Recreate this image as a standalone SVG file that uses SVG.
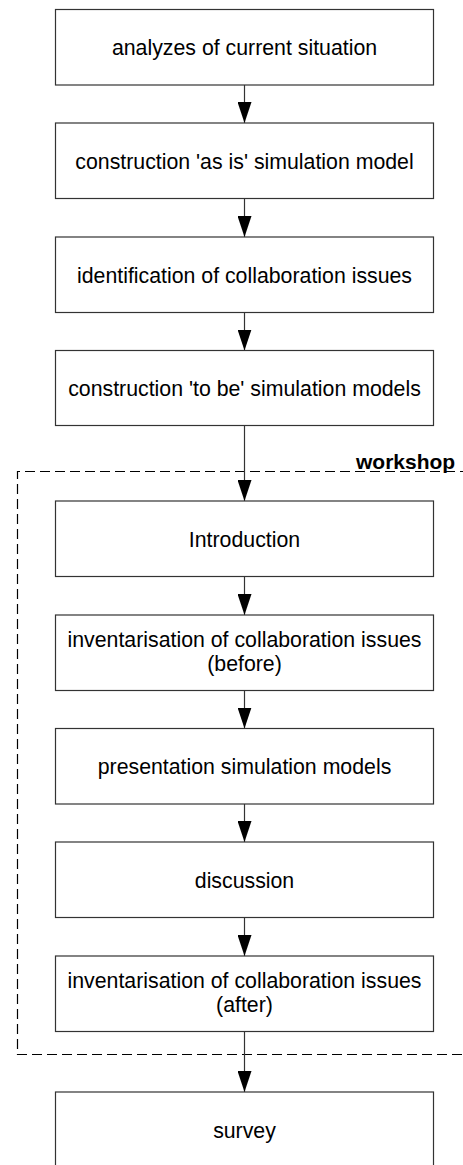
<svg xmlns="http://www.w3.org/2000/svg" width="463" height="1165" viewBox="0 0 463 1165">
<style>
.box{fill:#fff;stroke:#333;stroke-width:1.2}
.t{font-family:"Liberation Sans",Arial,sans-serif;font-size:21.3px;fill:#000;text-anchor:middle}
.lbl{font-family:"Liberation Sans",Arial,sans-serif;font-size:21px;font-weight:bold;fill:#000}
.conn{stroke:#333;stroke-width:1.2;fill:none}
.dash{stroke:#000;stroke-width:1.2;fill:none;stroke-dasharray:10,5}
</style>
<defs>
<marker id="ah" viewBox="0 0 21 14" refX="21" refY="7" markerWidth="21" markerHeight="14" markerUnits="userSpaceOnUse" orient="auto">
<path d="M0,0 L21,7 L0,14 Z" fill="#000"/>
</marker>
</defs>
<g id="workshop-group">
<path class="dash" d="M470,471.5 H17.5 V1054.5 H470"/>
<text class="lbl" x="356" y="469">workshop</text>
</g>
<g id="connectors">
<line class="conn" x1="244.5" y1="85" x2="244.5" y2="123" marker-end="url(#ah)"/>
<line class="conn" x1="244.5" y1="198.5" x2="244.5" y2="237" marker-end="url(#ah)"/>
<line class="conn" x1="244.5" y1="312.5" x2="244.5" y2="350.5" marker-end="url(#ah)"/>
<line class="conn" x1="244.5" y1="425.5" x2="244.5" y2="501" marker-end="url(#ah)"/>
<line class="conn" x1="244.5" y1="576.5" x2="244.5" y2="615" marker-end="url(#ah)"/>
<line class="conn" x1="244.5" y1="690.5" x2="244.5" y2="728.5" marker-end="url(#ah)"/>
<line class="conn" x1="244.5" y1="804" x2="244.5" y2="842" marker-end="url(#ah)"/>
<line class="conn" x1="244.5" y1="917.5" x2="244.5" y2="956" marker-end="url(#ah)"/>
<line class="conn" x1="244.5" y1="1031.5" x2="244.5" y2="1092" marker-end="url(#ah)"/>
</g>
<g id="n1"><rect class="box" x="55.5" y="9.5" width="378" height="75.5"/><text class="t" x="244.5" y="55">analyzes of current situation</text></g>
<g id="n2"><rect class="box" x="55.5" y="123" width="378" height="75.5"/><text class="t" x="244.5" y="168.5">construction 'as is' simulation model</text></g>
<g id="n3"><rect class="box" x="55.5" y="237" width="378" height="75.5"/><text class="t" x="244.5" y="282.5">identification of collaboration issues</text></g>
<g id="n4"><rect class="box" x="55.5" y="350.5" width="378" height="75"/><text class="t" x="244.5" y="396">construction 'to be' simulation models</text></g>
<g id="n5"><rect class="box" x="55.5" y="501" width="378" height="75.5"/><text class="t" x="244.5" y="546.5">Introduction</text></g>
<g id="n6"><rect class="box" x="55.5" y="615" width="378" height="75.5"/><text class="t" x="244.5" y="646.5">inventarisation of collaboration issues</text><text class="t" x="244.5" y="670.5">(before)</text></g>
<g id="n7"><rect class="box" x="55.5" y="728.5" width="378" height="75.5"/><text class="t" x="244.5" y="774">presentation simulation models</text></g>
<g id="n8"><rect class="box" x="55.5" y="842" width="378" height="75.5"/><text class="t" x="244.5" y="887.5">discussion</text></g>
<g id="n9"><rect class="box" x="55.5" y="956" width="378" height="75.5"/><text class="t" x="244.5" y="987.5">inventarisation of collaboration issues</text><text class="t" x="244.5" y="1011.5">(after)</text></g>
<g id="n10"><rect class="box" x="55.5" y="1092" width="378" height="75.5"/><text class="t" x="244.5" y="1137.5">survey</text></g>
</svg>
